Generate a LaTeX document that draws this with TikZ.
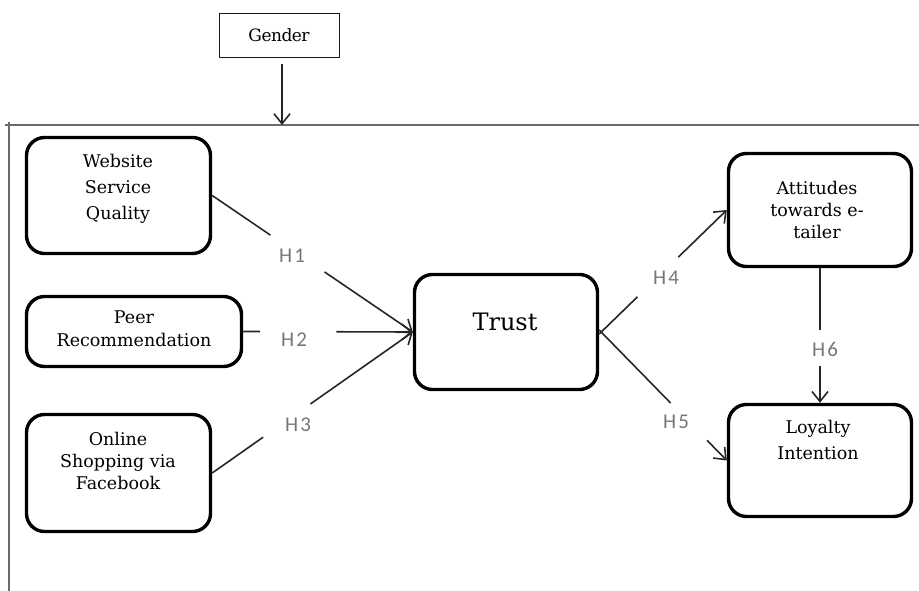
\documentclass[tikz,border=0pt]{standalone}
\usepackage{fontspec}
\setmainfont{DejaVu Serif}
\newfontfamily\hfont[LetterSpace=10]{Carlito}
\newfontfamily\gfont[LetterSpace=-3]{DejaVu Serif}
\usetikzlibrary{arrows.meta,calc}
\definecolor{hgray}{HTML}{777777}
\definecolor{framegray}{HTML}{6A6A6A}
\tikzset{
  construct/.style={draw=black, line width=3.4pt, rounded corners=18pt, inner sep=0pt},
  modbox/.style={draw=black!90, line width=1.1pt, inner sep=0pt, minimum width=120pt, minimum height=44pt},
  boxtext/.style={align=center, inner sep=0pt},
  hyp/.style={font=\hfont\fontsize{21}{24}\selectfont, text=hgray, inner sep=0pt},
  link/.style={draw=black!85, line width=1.6pt, -{Straight Barb[length=10pt,width=16pt,line width=1.6pt]}},
  frameline/.style={draw=framegray, line width=1.5pt}
}
\begin{document}
\begin{tikzpicture}[x=1pt,y=-1pt]
\useasboundingbox (0,0) rectangle (919,591);

% moderator and the frame it acts on
\node[modbox] (gender) at (279.5,35.5) {};
\node[boxtext, font=\gfont\fontsize{17}{20}\selectfont] (gendertxt) at (279,35) {Gender};
\coordinate (frameL) at (5,125);
\coordinate (frameR) at (919,125);
\coordinate (frameTop) at (9,122);
\coordinate (frameBot) at (9,591);
\draw[frameline] (frameL) -- (frameR);
\draw[frameline] (frameTop) -- (frameBot);
\coordinate (modhit) at (282,125);
\draw[link] ([xshift=2.5pt,yshift=-6pt]gender.south) -- (modhit);

% constructs
\node[construct, minimum width=184pt, minimum height=116pt] (web) at (118.5,195.5) {};
\node[construct, minimum width=215pt, minimum height=70pt] (peer) at (134,331.5) {};
\node[construct, minimum width=184pt, minimum height=117pt] (onl) at (118.5,473) {};
\node[construct, minimum width=183pt, minimum height=115pt] (trust) at (506,332) {};
\node[construct, minimum width=183pt, minimum height=113pt] (att) at (820,210) {};
\node[construct, minimum width=183pt, minimum height=112pt] (loy) at (820,460.5) {};

\node[boxtext, font=\fontsize{17.5}{26}\selectfont] (webtxt) at (118,189) {Website\\Service\\Quality};
\node[boxtext, font=\fontsize{17.5}{23}\selectfont] (peertxt) at (134,329) {Peer\\Recommendation};
\node[boxtext, font=\fontsize{17.5}{22}\selectfont] (onltxt) at (118,461) {Online\\Shopping via\\Facebook};
\node[boxtext, font=\fontsize{24}{28}\selectfont] (trusttxt) at (505,322) {Trust};
\node[boxtext, font=\fontsize{17.5}{22}\selectfont] (atttxt) at (817,210) {Attitudes\\towards e-\\tailer};
\node[boxtext, font=\fontsize{17.5}{26}\selectfont] (loytxt) at (818,440) {Loyalty\\Intention};

% hypothesis paths, each broken where its label sits
\draw[link] (web.east) -- ($(web.east)!0.29!(trust.west)$)
            ($(web.east)!0.56!(trust.west)$) -- (trust.west);
\draw[link] (peer.east) -- ($(peer.east)!0.10!(trust.west)$)
            ($(peer.east)!0.55!(trust.west)$) -- (trust.west);
\draw[link] (onl.east) -- ($(onl.east)!0.254!(trust.west)$)
            ($(onl.east)!0.49!(trust.west)$) -- (trust.west);
\draw[link] ([yshift=-2pt]trust.east) -- ($([yshift=-2pt]trust.east)!0.30!(att.west)$)
            ($([yshift=-2pt]trust.east)!0.62!(att.west)$) -- (att.west);
\draw[link] ([yshift=2pt]trust.east) -- ($([yshift=2pt]trust.east)!0.56!(loy.west)$)
            ($([yshift=2pt]trust.east)!0.845!(loy.west)$) -- (loy.west);
\draw[link] (att.south) -- ($(att.south)!0.46!(loy.north)$)
            ($(att.south)!0.73!(loy.north)$) -- (loy.north);

\node[hyp] (h1) at (292,256) {H1};
\node[hyp] (h2) at (294,340) {H2};
\node[hyp] (h3) at (298,425) {H3};
\node[hyp] (h4) at (666,278) {H4};
\node[hyp] (h5) at (676,422) {H5};
\node[hyp] (h6) at (825,349) {H6};
\end{tikzpicture}
\end{document}
